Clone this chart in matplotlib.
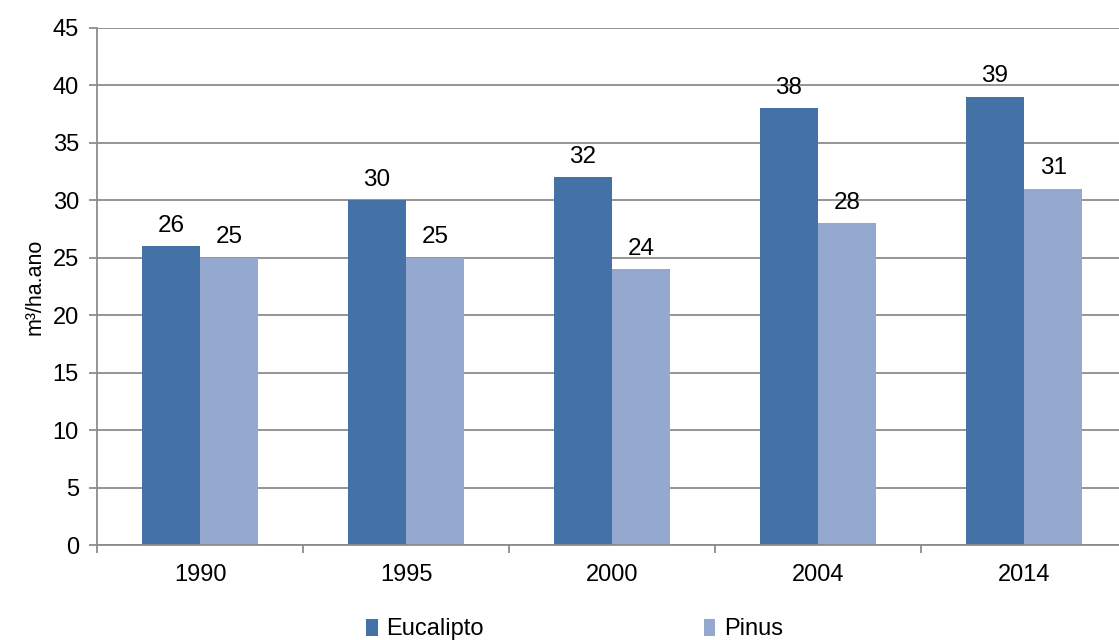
import numpy as np
import matplotlib
matplotlib.use('Agg')
import matplotlib.pyplot as plt

plt.rcParams['font.family'] = ['Liberation Sans', 'DejaVu Sans']

anos = ['1990', '1995', '2000', '2004', '2014']
eucalipto = [26, 30, 32, 38, 39]
pinus = [25, 25, 24, 28, 31]

cor_euc = '#4472A6'
cor_pin = '#95A9CF'
cinza = '#8C8C8C'

fig = plt.figure(figsize=(11.19, 6.4), dpi=100)
ax = fig.add_axes([97/1119, 1 - 545/640, 1030/1119, 517/640])

x = np.arange(len(anos))
w = 0.283
b1 = ax.bar(x - w/2, eucalipto, w, color=cor_euc, label='Eucalipto')
b2 = ax.bar(x + w/2, pinus, w, color=cor_pin, label='Pinus')

# rótulos dos valores
for bars in (b1, b2):
    for r in bars:
        ax.annotate(f'{r.get_height():.0f}', (r.get_x() + r.get_width()/2, r.get_height()),
                    xytext=(0, 7), textcoords='offset points', ha='center', va='bottom',
                    fontsize=17.5)

ax.set_ylim(0, 45)
ax.set_yticks(range(0, 46, 5))
ax.set_xlim(-0.5, len(anos) - 0.5)
ax.yaxis.grid(True, color=cinza, linewidth=1.3)
ax.set_axisbelow(True)

# ticks do eixo x nas divisas dos grupos, rótulos no centro
ax.set_xticks(np.arange(-0.5, len(anos), 1.0))
ax.set_xticklabels([])
ax.set_xticks(x, minor=True)
ax.set_xticklabels(anos, minor=True)
ax.tick_params(axis='x', which='major', length=6, color=cinza, width=1.3)
ax.tick_params(axis='x', which='minor', length=0, pad=14, labelsize=17)
ax.tick_params(axis='y', length=6, color=cinza, width=1.3, pad=7, labelsize=17)

for s in ('top', 'right'):
    ax.spines[s].set_visible(False)
for s in ('left', 'bottom'):
    ax.spines[s].set_color(cinza)
    ax.spines[s].set_linewidth(1.3)

ax.set_ylabel('m³/ha.ano', fontsize=15.5, labelpad=5)

fig.legend(handles=[b1, b2], loc='upper left', bbox_to_anchor=(357/1119, 1 - 609/640),
           ncol=2, frameon=False, fontsize=17, handlelength=0.5, handleheight=0.75,
           handletextpad=0.35, columnspacing=9.3, borderaxespad=0)

fig.savefig('out.png', dpi=100)
